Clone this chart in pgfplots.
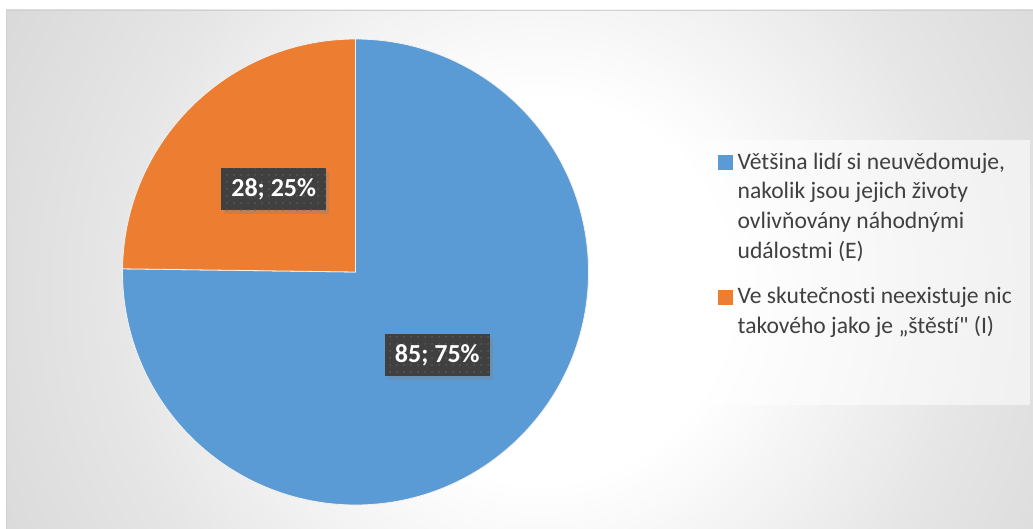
\documentclass[border=0pt]{standalone}
\usepackage{fontspec}
\newfontfamily\calibri{Carlito}[Ligatures=NoCommon]
\usepackage{pgfplots}
\usepackage{pgfplotstable}
\pgfplotsset{compat=1.18}
\usetikzlibrary{shadows,patterns.meta}
\definecolor{pieblue}{HTML}{5B9BD5}
\definecolor{pieorange}{HTML}{ED7D31}
\definecolor{lbl}{HTML}{404040}
\definecolor{dotc}{HTML}{5C5C5C}
\definecolor{txt}{HTML}{404040}
\pgfdeclareradialshading{circbg}{\pgfpoint{0bp}{0bp}}{color(0bp)=(white); color(8bp)=(white); color(18bp)=(black!10); color(30bp)=(black!18); color(44bp)=(black!24); color(50bp)=(black!26)}
\tikzset{lblbox/.style={fill=lbl, text=white, font=\calibri\fontsize{26}{30}\selectfont\bfseries,
    minimum width=105pt, minimum height=42pt, inner sep=0pt,
    drop shadow={shadow xshift=3pt, shadow yshift=-4pt, opacity=0.35},
    postaction={pattern={Dots[radius=1pt,distance=6.5pt]}, pattern color=dotc}}}

\pgfplotstableread{
name value
E 85
I 28
}\piedata

\begin{document}
\begin{tikzpicture}[x=1pt,y=1pt]
\pgfplotstablegetelem{0}{value}\of\piedata \edef\vE{\pgfplotsretval}
\pgfplotstablegetelem{1}{value}\of\piedata \edef\vI{\pgfplotsretval}
\pgfmathsetmacro\total{\vE+\vI}
\pgfmathsetmacro\fracE{\vE/\total}
\pgfmathsetmacro\fracI{\vI/\total}
\pgfmathsetmacro\angE{360*\fracE}
\pgfmathsetmacro\endE{90-\angE}
\pgfmathsetmacro\midE{90-\angE/2}
\pgfmathsetmacro\midI{(\endE-270)/2}
\pgfmathtruncatemacro\pE{round(100*\fracE)}
\pgfmathtruncatemacro\pI{round(100*\fracI)}
\useasboundingbox (0,0) rectangle (1033,528);
\fill[white] (0,0) rectangle (1033,528);
\begin{scope}
\clip (6,0) rectangle (1033,518);
\shade[shading=circbg] (-60,-362) rectangle (1140,838);
\end{scope}
\draw[black!18, line width=1pt] (6.5,-1) -- (6.5,517.5) -- (1034,517.5);
\fill[white, opacity=0.55] (705,123) rectangle (1030,388);
\begin{axis}[
  at={(0pt,0pt)}, anchor=south west,
  x=233pt, y=233pt,
  xmin=-1.5258, xmax=2.9077, ymin=-1.0987, ymax=1.1674,
  hide axis, clip=false,
  legend style={at={(axis description cs:0.6951,0.7112)}, anchor=north west,
    draw=none, fill=none, inner sep=0pt, column sep=5pt, row sep=25.5pt,
    cells={anchor=west},
    nodes={inner sep=0pt, text depth=, align=left,
      font=\calibri\fontsize{23.6}{29.7}\selectfont, text=txt}},
]
\fill[pieblue, draw=white!90!gray, line width=0.8pt]
  (axis cs:0,0) -- (axis cs:0,1) arc[start angle=90, end angle=\endE, radius=233pt] -- cycle;
\fill[pieorange, draw=white!90!gray, line width=0.8pt]
  (axis cs:0,0) -- (axis cs:{cos(\endE)},{sin(\endE)}) arc[start angle=\endE, end angle=-270, radius=233pt] -- cycle;
\node[lblbox] at (axis cs:{0.5*cos(\midE)},{0.5*sin(\midE)}) {\vE; \pE\%};
\node[lblbox] at (axis cs:{0.5*cos(\midI)},{0.5*sin(\midI)}) {\vI; \pI\%};
\addlegendimage{legend image code/.code={\fill[pieblue] (0pt,37.6pt) rectangle (14pt,51.6pt);}}
\addlegendentry{Většina lidí si neuvědomuje,\\nakolik jsou jejich životy\\ovlivňovány náhodnými\\událostmi (E)}
\addlegendimage{legend image code/.code={\fill[pieorange] (0pt,7.6pt) rectangle (14pt,21.6pt);}}
\addlegendentry{Ve skutečnosti neexistuje nic\\takového jako je „štěstí" (I)}
\end{axis}
\end{tikzpicture}
\end{document}
